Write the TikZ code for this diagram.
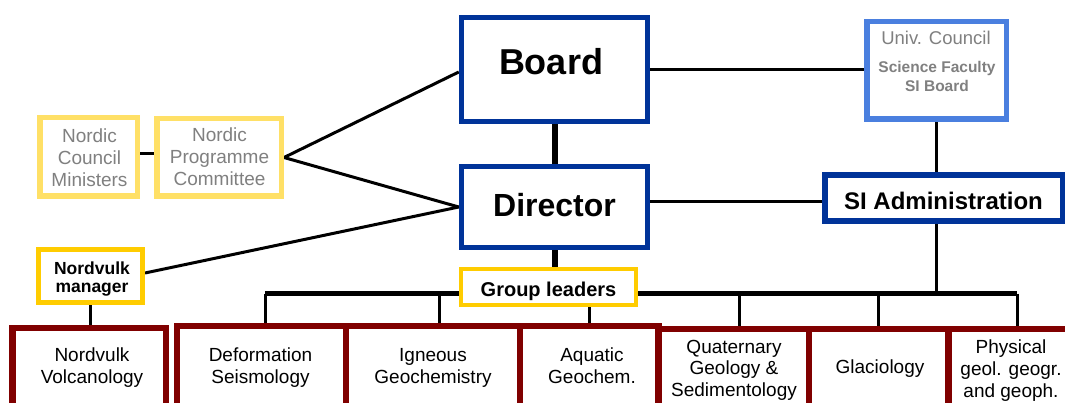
\documentclass[tikz,border=0pt]{standalone}
\usepackage{fontspec}
\setmainfont{Liberation Sans}
\definecolor{navy}{HTML}{003399}
\definecolor{skyblue}{HTML}{4A7FDF}
\definecolor{paleyellow}{HTML}{FFE066}
\definecolor{gold}{HTML}{FFCC00}
\definecolor{maroon}{HTML}{800000}
\definecolor{greytext}{HTML}{808080}
\newcommand\fsz[2]{\fontsize{#1}{#2}\selectfont}
\pgfdeclarelayer{wires}
\pgfsetlayers{wires,main}
\begin{document}
\begin{tikzpicture}[x=1pt,y=-1pt,
  box/.style={draw, fill=white, rectangle, inner sep=0pt},
  mainbox/.style={box, draw=navy, line width=5.5pt},
  nordicbox/.style={box, draw=paleyellow, line width=5.5pt},
  goldbox/.style={box, draw=gold, line width=4.5pt},
  unitbox/.style={box, draw=maroon, line width=6.5pt},
  wire/.style={draw=black, line width=3pt},
  thickwire/.style={draw=black, line width=6pt},
  buswire/.style={draw=black, line width=5pt},
  lbl/.style={inner sep=0pt, anchor=base, align=center},
  unittext/.style={lbl, font=\fsz{19}{22}},
  greytxt/.style={lbl, text=greytext}]
\useasboundingbox (0,0) rectangle (1065,403);
\begin{scope}
\clip (0,0) rectangle (1065,403);

% top management
\node[mainbox, minimum width=186pt, minimum height=104pt] (board) at (554.5,69.5) {};
\node[mainbox, minimum width=186pt, minimum height=81pt] (dir) at (554.5,207) {};
\node[goldbox, minimum width=175pt, minimum height=36pt] (gl) at (548.5,287) {};

% university side
\node[box, draw=skyblue, line width=5.5pt, minimum width=139.5pt, minimum height=97.5pt] (uc) at (936.5,70.5) {};
\node[mainbox, line width=6pt, minimum width=238pt, minimum height=46pt] (sia) at (944,198) {};

% nordic side
\node[nordicbox, minimum width=97.5pt, minimum height=78.5pt] (ncm) at (88.5,157) {};
\node[nordicbox, minimum width=124.5pt, minimum height=77.5pt] (npc) at (219,157.5) {};
\node[goldbox, line width=5pt, minimum width=104pt, minimum height=53pt] (nm) at (90.5,276) {};

% research groups
\node[unitbox, minimum width=153.5pt, minimum height=111.75pt] (nv) at (89,384.1) {};
\node[unitbox, minimum width=168.75pt, minimum height=113.75pt] (def) at (261.6,383.1) {};
\node[unitbox, minimum width=174pt, minimum height=113.75pt] (ign) at (433,383.1) {};
\node[unitbox, minimum width=138.5pt, minimum height=113.75pt] (aq) at (589.25,383.1) {};
\node[unitbox, minimum width=150.5pt, minimum height=111.25pt] (qua) at (733.75,384.4) {};
\node[unitbox, minimum width=139.5pt, minimum height=111.25pt] (gla) at (878.75,384.4) {};
\node[unitbox, minimum width=126.5pt, minimum height=111.25pt] (phy) at (1011.75,384.4) {};

% bus taps
\coordinate (busL) at (265,293.5);
\coordinate (busR) at (1017,293.5);
\coordinate (tapIg) at (439,293.5);
\coordinate (tapQu) at (739,293.5);

\begin{pgfonlayer}{wires}
  \path[thickwire] (board.south) -- (dir.north);
  \path[thickwire] (dir.south) -- (dir.south |- gl.north);
  \path[buswire] (busL) -- (busR);
  \path[wire] (busL) -- (busL |- def.north);
  \path[wire] (tapIg) -- (tapIg |- ign.north);
  \path[wire] (aq.north |- gl.south) -- (aq.north);
  \path[wire] (tapQu) -- (tapQu |- qua.north);
  \path[wire] (gla.north |- busL) -- (gla.north);
  \path[wire] (busR) -- (busR |- phy.north);
  \path[wire] (board.east) -- (board.east -| uc.west);
  \path[wire] ([yshift=5pt]dir.east) -- ([yshift=5pt]dir.east -| sia.west);
  \path[wire] (uc.south) -- (uc.south |- sia.north);
  \path[wire] (sia.south -| uc.south) -- (uc.south |- busL);
  \path[wire] ([yshift=3pt]ncm.east) -- ([yshift=3pt]ncm.east -| npc.west);
  \path[wire] (npc.east) -- ([yshift=-2.5pt]board.west);
  \path[wire] (npc.east) -- (dir.west);
  \path[wire] ([yshift=3pt]nm.east) -- (dir.west);
  \path[wire] (nm.south) -- (nm.south |- nv.north);
\end{pgfonlayer}

% labels (multi-line labels sit on the baseline of their last line)
\node[lbl, font=\bfseries\fsz{36}{40}] (tBoard) at (551,75) {Board};
\node[lbl, font=\bfseries\fsz{32}{36}] (tDir) at (554.5,217) {Director};
\node[lbl, font=\bfseries\fsz{20}{22}] (tGl) at (548.5,297) {Group leaders};
\node[lbl, font=\bfseries\fsz{24}{26}] (tSia) at (943.5,210) {SI Administration};
\node[greytxt, font=\fsz{18.5}{20}] (tUc) at (936,45) {Univ. Council};
\node[greytxt, font=\bfseries\fsz{15.5}{19}] (tSf) at (937,92) {Science Faculty\\SI Board};
\node[greytxt, font=\fsz{19}{22}] (tNcm) at (89.5,187) {Nordic\\Council\\Ministers};
\node[greytxt, font=\fsz{19}{22}] (tNpc) at (219.5,186) {Nordic\\Programme\\Committee};
\node[lbl, font=\bfseries\fsz{17.5}{18}] (tNm) at (92,293) {Nordvulk\\manager};
\node[unittext] (tNv) at (92,383) {Nordvulk\\Volcanology};
\node[unittext] (tDef) at (260.5,383) {Deformation\\Seismology};
\node[unittext] (tIgn) at (433,383) {Igneous\\Geochemistry};
\node[unittext] (tAq) at (592,383) {Aquatic\\Geochem.};
\node[unittext, font=\fsz{19}{21.5}] (tQua) at (734,396) {Quaternary\\Geology \&\\Sedimentology};
\node[unittext] (tGla) at (880,373) {Glaciology};
\node[unittext, font=\fsz{19}{22}] (tPhy) at (1011,397) {Physical\\geol. geogr.\\and geoph.};
\end{scope}
\end{tikzpicture}
\end{document}
